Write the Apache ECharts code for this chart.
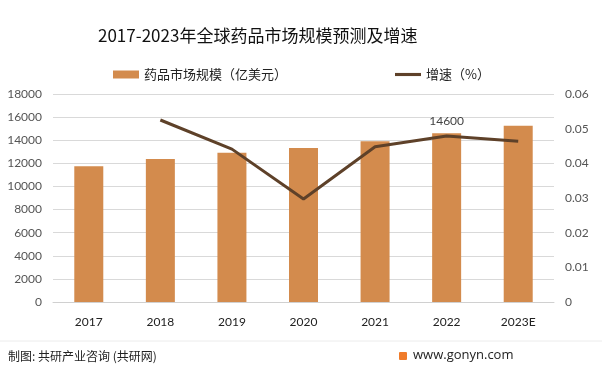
<!DOCTYPE html>
<html><head><meta charset="utf-8">
<script src="https://cdn.jsdelivr.net/npm/echarts@6/dist/echarts.min.js"></script>
<style>html,body{margin:0;padding:0;background:#fff}#c{width:602px;height:373px}</style>
</head><body><div id="c"></div>
<script>
var categories = ['2017','2018','2019','2020','2021','2022','2023E'];
var marketSize = [11750, 12370, 12920, 13320, 13920, 14600, 15250];
var growthRate = [null, 0.0525, 0.0441, 0.0297, 0.0448, 0.0479, 0.0464];
var leftTicks = {min: 0, max: 18000, interval: 2000};
var rightTicks = {min: 0, max: 0.06, interval: 0.01};
var barName = '药品市场规模（亿美元）';
var lineName = '增速（%）';
var labelledIndex = 5;

var chart = echarts.init(document.getElementById('c'), null, {renderer: 'canvas'});
var numFont = 'Lato, "Liberation Sans", sans-serif';
var cjk = '"Noto Sans CJK SC", sans-serif';
chart.setOption({
  backgroundColor: '#fff',
  animation: false,
  title: {
    text: '2017-2023年全球药品市场规模预测及增速',
    left: 93, top: 22,
    textStyle: {fontFamily: cjk, fontSize: 17, fontWeight: 'normal', color: '#111'}
  },
  legend: {
    top: 63, left: 108, itemGap: 108,
    itemWidth: 26, itemHeight: 8,
    textStyle: {fontFamily: cjk, fontSize: 13, color: '#222'},
    data: [
      {name: barName, icon: 'rect'},
      {name: lineName, icon: 'path://M0,0 L10,0 L10,1.2 L0,1.2 Z'}
    ]
  },
  grid: {left: 53, right: 48, top: 94, bottom: 71},
  xAxis: {
    type: 'category', data: categories,
    axisLine: {lineStyle: {color: '#d0d0d0'}},
    axisTick: {show: false},
    axisLabel: {fontFamily: numFont, fontSize: 12, color: '#222', margin: 14}
  },
  yAxis: [{
    type: 'value', min: leftTicks.min, max: leftTicks.max, interval: leftTicks.interval,
    axisLine: {show: false}, axisTick: {show: false},
    axisLabel: {fontFamily: numFont, fontSize: 12, color: '#555', margin: 11,
      formatter: function(v){ return String(v); }},
    splitLine: {lineStyle: {color: '#d9d9d9'}}
  }, {
    type: 'value', min: rightTicks.min, max: rightTicks.max, interval: rightTicks.interval,
    axisLine: {show: false}, axisTick: {show: false},
    axisLabel: {fontFamily: numFont, fontSize: 12, color: '#555', margin: 11},
    splitLine: {show: false}
  }],
  series: [{
    name: barName, type: 'bar', data: marketSize.map(function(v, i){
      return i === labelledIndex ? {value: v, label: {show: true, position: 'top', distance: 6,
        fontFamily: numFont, fontSize: 12, color: '#444'}} : v;
    }),
    barWidth: 29, itemStyle: {color: '#D38B4D'}
  }, {
    name: lineName, type: 'line', yAxisIndex: 1, data: growthRate,
    symbol: 'none', lineStyle: {color: '#5E4129', width: 3}, itemStyle: {color: '#5E4129'}
  }],
  graphic: [
    {type: 'line', shape: {x1: 0, y1: 341, x2: 602, y2: 341}, style: {stroke: '#ececec', lineWidth: 1}},
    {type: 'text', left: 8, top: 350, style: {text: '制图: 共研产业咨询 (共研网)', fontFamily: cjk, fontSize: 12, fill: '#222'}},
    {type: 'rect', shape: {x: 399, y: 352, width: 8, height: 8, r: 1}, style: {fill: '#F07B2A'}},
    {type: 'text', left: 413, top: 349, style: {text: 'www.gonyn.com', fontFamily: '"Open Sans", sans-serif', fontSize: 13, fill: '#222'}}
  ]
});
</script></body></html>
